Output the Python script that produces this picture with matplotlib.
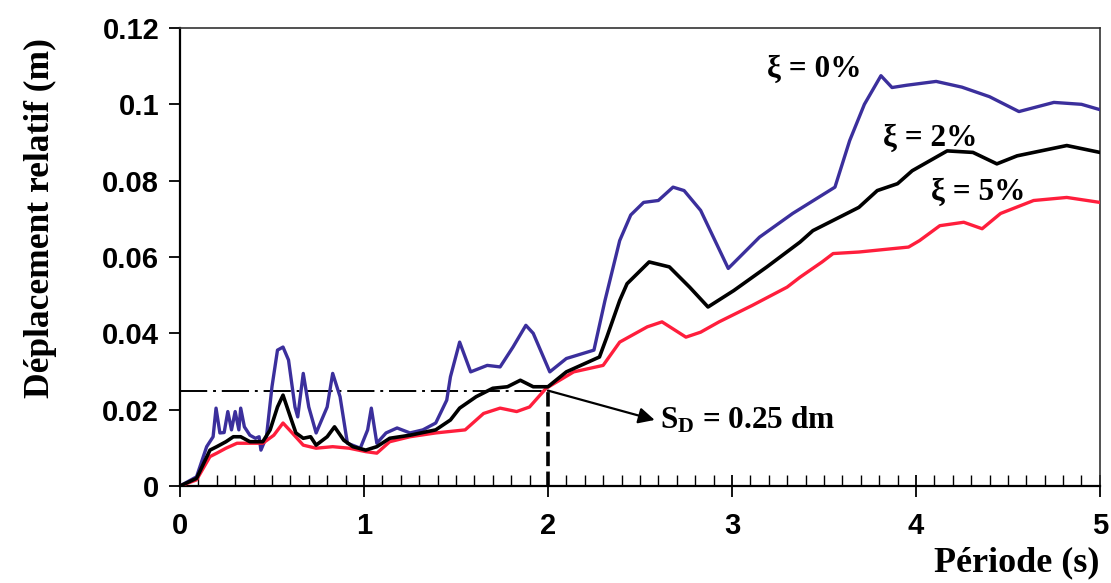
import numpy as np
import matplotlib
matplotlib.use("Agg")
import matplotlib.pyplot as plt
from matplotlib.ticker import MultipleLocator, FixedLocator

plt.rcParams['mathtext.fontset'] = 'custom'
plt.rcParams['mathtext.rm'] = 'Liberation Serif:bold'
plt.rcParams['mathtext.bf'] = 'Liberation Serif:bold'
plt.rcParams['mathtext.it'] = 'Liberation Serif:bold'

# Displacement response spectra (relative displacement, m) versus period (s)
period_xi0 = [0, 0.09, 0.145, 0.18, 0.196, 0.217, 0.24, 0.26, 0.28, 0.30, 0.32, 0.33,
              0.35, 0.38, 0.41, 0.43, 0.44, 0.47, 0.50, 0.53, 0.56, 0.59, 0.625, 0.64,
              0.67, 0.70, 0.74, 0.80, 0.83, 0.87, 0.91, 0.98, 1.02, 1.04, 1.07, 1.12,
              1.18, 1.25, 1.32, 1.39, 1.45, 1.47, 1.52, 1.58, 1.67, 1.74, 1.81, 1.88,
              1.92, 2.01, 2.10, 2.25, 2.31, 2.39, 2.45, 2.52, 2.60, 2.68, 2.74, 2.83,
              2.98, 3.15, 3.33, 3.45, 3.56, 3.64, 3.72, 3.81, 3.87, 3.95, 4.11, 4.25,
              4.40, 4.56, 4.75, 4.90, 5.0]
disp_xi0 = [0, 0.0024, 0.0103, 0.0129, 0.0204, 0.0139, 0.0140, 0.0195, 0.0147, 0.0195,
            0.0147, 0.0204, 0.0155, 0.0133, 0.0125, 0.0129, 0.0094, 0.0129, 0.026, 0.0356,
            0.0364, 0.033, 0.0207, 0.0181, 0.0295, 0.0207, 0.0139, 0.0207, 0.0295, 0.0234,
            0.0112, 0.0099, 0.0147, 0.0204, 0.0112, 0.0139, 0.0152, 0.0139, 0.0147, 0.0165,
            0.0225, 0.0286, 0.0377, 0.0299, 0.0316, 0.0312, 0.0364, 0.0421, 0.040, 0.0299,
            0.0334, 0.0356, 0.0486, 0.0643, 0.071, 0.0743, 0.0748, 0.0783, 0.0774, 0.0722,
            0.0570, 0.0652, 0.0714, 0.075, 0.0783, 0.0905, 0.100, 0.1075, 0.1044, 0.105,
            0.106, 0.1045, 0.102, 0.0981, 0.1005, 0.100, 0.0986]

period_xi2 = [0, 0.09, 0.163, 0.2, 0.25, 0.29, 0.33, 0.38, 0.45, 0.49, 0.53, 0.56, 0.60,
              0.63, 0.67, 0.71, 0.74, 0.80, 0.84, 0.89, 0.94, 1.01, 1.07, 1.14, 1.25,
              1.39, 1.47, 1.52, 1.61, 1.70, 1.78, 1.85, 1.92, 2.00, 2.10, 2.28, 2.32,
              2.39, 2.43, 2.55, 2.66, 2.77, 2.87, 3.01, 3.19, 3.37, 3.44, 3.60, 3.69,
              3.79, 3.90, 3.98, 4.17, 4.31, 4.44, 4.55, 4.82, 5.0]
disp_xi2 = [0, 0.002, 0.0094, 0.0103, 0.0116, 0.0129, 0.0129, 0.0116, 0.0116, 0.0147,
            0.0207, 0.0238, 0.0181, 0.0139, 0.0125, 0.0129, 0.0107, 0.0129, 0.0155, 0.012,
            0.0103, 0.0094, 0.0103, 0.0125, 0.0133, 0.0147, 0.0173, 0.0204, 0.0234, 0.0256,
            0.026, 0.0277, 0.026, 0.026, 0.0299, 0.0338, 0.039, 0.0486, 0.053, 0.0587,
            0.0574, 0.0521, 0.0469, 0.0512, 0.0574, 0.0639, 0.0669, 0.0708, 0.073, 0.0774,
            0.0792, 0.0826, 0.0878, 0.0874, 0.0844, 0.0865, 0.0892, 0.0874]

period_xi5 = [0, 0.09, 0.163, 0.2, 0.25, 0.31, 0.38, 0.45, 0.51, 0.56, 0.61, 0.67, 0.74,
              0.83, 0.92, 1.01, 1.07, 1.14, 1.25, 1.39, 1.55, 1.65, 1.74, 1.83, 1.90,
              1.99, 2.14, 2.30, 2.39, 2.54, 2.62, 2.75, 2.83, 2.93, 3.11, 3.30, 3.37,
              3.49, 3.55, 3.69, 3.96, 4.02, 4.13, 4.26, 4.36, 4.46, 4.64, 4.82, 5.0]
disp_xi5 = [0, 0.0016, 0.0077, 0.0086, 0.0099, 0.0112, 0.0112, 0.0112, 0.0133, 0.0165,
            0.0139, 0.0107, 0.0099, 0.0103, 0.0099, 0.009, 0.0086, 0.0116, 0.0129, 0.0139,
            0.0147, 0.019, 0.0204, 0.0195, 0.0207, 0.0256, 0.0299, 0.0316, 0.0377, 0.0417,
            0.043, 0.039, 0.0403, 0.043, 0.0473, 0.0521, 0.0547, 0.0587, 0.0609, 0.0613,
            0.0626, 0.0643, 0.0682, 0.0691, 0.0674, 0.0714, 0.0748, 0.0756, 0.0743]

curve_labels = ["ξ = 0%", "ξ = 2%", "ξ = 5%"]
x_ticks = [0, 1, 2, 3, 4, 5]
y_ticks = [0, 0.02, 0.04, 0.06, 0.08, 0.1, 0.12]
y_ticklabels = ["0", "0.02", "0.04", "0.06", "0.08", "0.1", "0.12"]

# Design point read on the spectrum
t_design = 2.0
sd_dm = 0.25
sd_m = sd_dm / 10.0

fig = plt.figure(figsize=(11.11, 5.83), dpi=100)
ax = fig.add_axes([0.162, 0.1664, 0.828, 0.7856])

blue = '#3b2f9c'
red = '#ff1e3c'
ax.plot(period_xi0, disp_xi0, color=blue, lw=2.4, zorder=3)
ax.plot(period_xi2, disp_xi2, color='black', lw=2.6, zorder=4)
ax.plot(period_xi5, disp_xi5, color=red, lw=2.4, zorder=3)

# Reference lines for the design period
ax.plot([0, t_design], [sd_m, sd_m], color='black', lw=1.4,
        dashes=(14, 3, 1.5, 3), zorder=2)
ax.plot([t_design, t_design], [0, sd_m], color='black', lw=2.6,
        dashes=(4, 1.5), zorder=5)
ax.annotate('', xy=(2.58, 0.0173), xytext=(t_design, sd_m),
            arrowprops=dict(arrowstyle='-|>', color='black', lw=1.6,
                            mutation_scale=24, shrinkA=0, shrinkB=0), zorder=6)
ax.text(2.61, 0.0173, r'$\mathrm{S}_{\mathrm{D}}$' + f' = {sd_dm:.2f} dm',
        family='Liberation Serif', fontweight='bold', fontsize=22.5,
        ha='left', va='center')

serif = dict(family='Liberation Serif', fontweight='bold', fontsize=22.5,
             ha='center', va='center')
ax.text(3.445, 0.1092, curve_labels[0], **serif)
ax.text(4.076, 0.0912, curve_labels[1], **serif)
ax.text(4.34, 0.0769, curve_labels[2], **serif)

ax.set_xlim(0, 5)
ax.set_ylim(0, 0.12)
ax.xaxis.set_major_locator(FixedLocator(x_ticks))
ax.xaxis.set_minor_locator(MultipleLocator(0.1))
ax.yaxis.set_major_locator(FixedLocator(y_ticks))
ax.set_yticklabels(y_ticklabels)
ax.set_xticklabels([str(v) for v in x_ticks])

ax.tick_params(axis='x', which='major', direction='inout', length=16, width=1.3,
               pad=11, labelsize=21)
ax.tick_params(axis='x', which='minor', direction='in', length=8, width=1.0)
ax.tick_params(axis='y', which='major', direction='out', length=8, width=1.3,
               pad=7, labelsize=21)
for lab in ax.get_xticklabels() + ax.get_yticklabels():
    lab.set_family('Liberation Sans')
    lab.set_fontweight('bold')

for side in ('left', 'bottom'):
    ax.spines[side].set_linewidth(1.6)
    ax.spines[side].set_color('black')
for side in ('top', 'right'):
    ax.spines[side].set_linewidth(1.2)
    ax.spines[side].set_color('#333333')

fig.text(40 / 1111, 0.626, 'Déplacement relatif (m)', rotation=90,
         family='Liberation Serif', fontweight='bold', fontsize=25.5,
         ha='center', va='center')
fig.text(1100 / 1111, 0.034, 'Période (s)', family='Liberation Serif',
         fontweight='bold', fontsize=26, ha='right', va='center')

fig.savefig('out.png', dpi=100)
